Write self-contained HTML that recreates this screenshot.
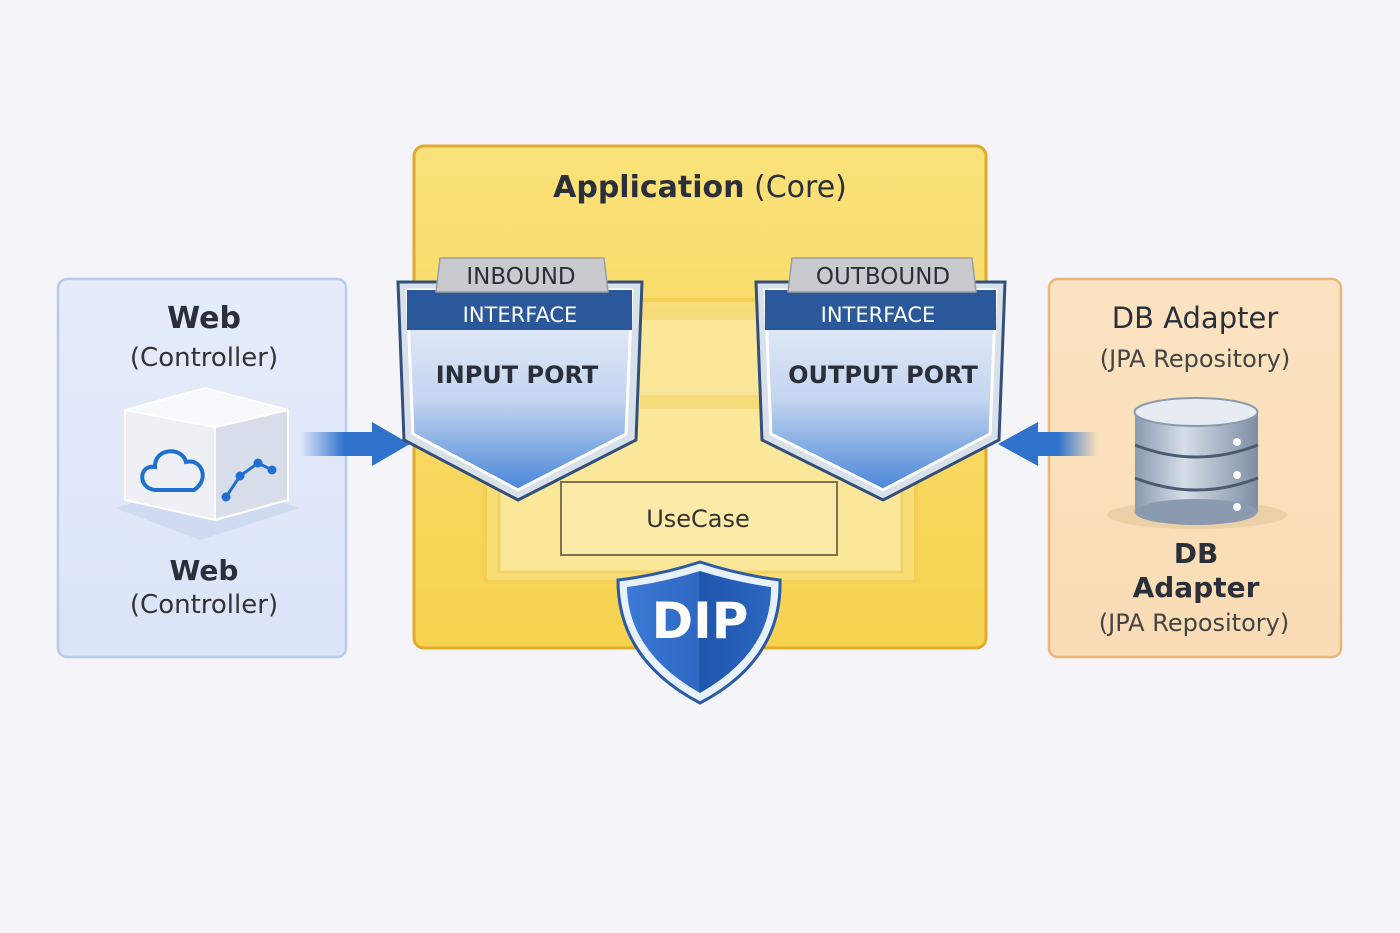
<!DOCTYPE html>
<html><head><style>html,body{margin:0;padding:0;background:#f5f4f9}svg{display:block}text{font-family:"DejaVu Sans","Liberation Sans",sans-serif}</style></head>
<body>
<svg width="1400" height="933" viewBox="0 0 1400 933" xmlns="http://www.w3.org/2000/svg">
<defs>
<linearGradient id="core" x1="0" y1="0" x2="0" y2="1"><stop offset="0" stop-color="#fae27a"/><stop offset="1" stop-color="#f6d24e"/></linearGradient>
<linearGradient id="web" x1="0" y1="0" x2="0" y2="1"><stop offset="0" stop-color="#e6ecfb"/><stop offset="1" stop-color="#dbe4f8"/></linearGradient>
<linearGradient id="db" x1="0" y1="0" x2="0" y2="1"><stop offset="0" stop-color="#fbe3c2"/><stop offset="1" stop-color="#f9dcb4"/></linearGradient>
<linearGradient id="sh" x1="0" y1="0" x2="0" y2="1"><stop offset="0" stop-color="#eef1fa"/><stop offset="0.55" stop-color="#c3d5f0"/><stop offset="1" stop-color="#4a86d8"/></linearGradient>
<linearGradient id="dip" x1="0" y1="0" x2="1" y2="0"><stop offset="0" stop-color="#3b7ad6"/><stop offset="0.5" stop-color="#2d67c2"/><stop offset="0.5" stop-color="#1f56ad"/><stop offset="1" stop-color="#2b66c0"/></linearGradient>
<linearGradient id="arL" x1="0" y1="0" x2="1" y2="0"><stop offset="0" stop-color="#2f72cc" stop-opacity="0"/><stop offset="0.6" stop-color="#2f72cc"/></linearGradient>
<linearGradient id="arR" x1="1" y1="0" x2="0" y2="0"><stop offset="0" stop-color="#2f72cc" stop-opacity="0"/><stop offset="0.6" stop-color="#2f72cc"/></linearGradient>
<linearGradient id="cyl" x1="0" y1="0" x2="1" y2="0"><stop offset="0" stop-color="#8a9bb0"/><stop offset="0.4" stop-color="#d5dde8"/><stop offset="1" stop-color="#7d8ea4"/></linearGradient>
</defs>

<rect x="58" y="279" width="288" height="378" rx="9" fill="url(#web)" stroke="#b7cbef" stroke-width="2.5"/>
<text x="204" y="328" text-anchor="middle" font-size="30" font-weight="bold" fill="#2a2f3a">Web</text>
<text x="204" y="366" text-anchor="middle" font-size="26" fill="#333">(Controller)</text>
<polygon points="115,508 200,540 300,508 210,480" fill="#c9d6f0" opacity="0.7"/>
<polygon points="125,410 215,427 215,520 125,500" fill="#eef0f5" stroke="#fff" stroke-width="2"/>
<polygon points="215,427 288,410 288,500 215,520" fill="#d8dee9" stroke="#fff" stroke-width="2"/>
<polygon points="125,410 205,388 288,410 215,427" fill="#f8f9fc" stroke="#fff" stroke-width="2"/>
<path d="M155,490 C137,488 139,464 155,467 C154,448 182,446 186,462 C202,458 210,480 194,490 Z" fill="none" stroke="#1f6fd0" stroke-width="4"/>
<polyline points="226,497 240,476 258,463 272,470" fill="none" stroke="#1f6fd0" stroke-width="3"/>
<circle cx="226" cy="497" r="4.5" fill="#1f6fd0"/><circle cx="240" cy="476" r="4.5" fill="#1f6fd0"/><circle cx="258" cy="463" r="4.5" fill="#1f6fd0"/><circle cx="272" cy="470" r="4.5" fill="#1f6fd0"/>
<text x="204" y="580" text-anchor="middle" font-size="28" font-weight="bold" fill="#2a2f3a">Web</text>
<text x="204" y="613" text-anchor="middle" font-size="26" fill="#333">(Controller)</text>

<rect x="1049" y="279" width="292" height="378" rx="9" fill="url(#db)" stroke="#ebb679" stroke-width="2.5"/>
<text x="1195" y="328" text-anchor="middle" font-size="29" fill="#2a2f3a">DB Adapter</text>
<text x="1195" y="367" text-anchor="middle" font-size="24" fill="#444">(JPA Repository)</text>
<ellipse cx="1197" cy="515" rx="90" ry="14" fill="#e6c9a0" opacity="0.7"/>
<rect x="1135" y="412" width="123" height="100" fill="url(#cyl)"/>
<ellipse cx="1196" cy="512" rx="61.5" ry="13" fill="#8a9bb0"/>
<path d="M1135,445 q61,24 123,0 M1135,478 q61,24 123,0" fill="none" stroke="#4d5b70" stroke-width="3"/>
<ellipse cx="1196" cy="412" rx="61.5" ry="14" fill="#e7ecf3" stroke="#8a9bb0" stroke-width="2"/>
<circle cx="1237" cy="442" r="4" fill="#fff"/><circle cx="1237" cy="475" r="4" fill="#fff"/><circle cx="1237" cy="507" r="4" fill="#fff"/>
<text x="1196" y="563" text-anchor="middle" font-size="28" font-weight="bold" fill="#2a2f3a">DB</text>
<text x="1196" y="597" text-anchor="middle" font-size="28" font-weight="bold" fill="#2a2f3a">Adapter</text>
<text x="1194" y="631" text-anchor="middle" font-size="24" fill="#444">(JPA Repository)</text>

<rect x="414" y="146" width="572" height="502" rx="10" fill="url(#core)" stroke="#deac2a" stroke-width="3"/>
<text x="700" y="197" text-anchor="middle" font-size="30" fill="#2a2f3a"><tspan font-weight="bold">Application</tspan> (Core)</text>
<rect x="485" y="300" width="431" height="282" rx="4" fill="#f8de74" stroke="#f3cf56" stroke-width="4"/>
<rect x="499" y="310" width="403" height="262" fill="#fae79a" stroke="#f1d266" stroke-width="3"/>
<rect x="640" y="306" width="120" height="14" fill="#f6dc7a"/>
<rect x="640" y="395" width="120" height="14" fill="#f6dc7a"/>
<rect x="561" y="482" width="276" height="73" fill="#fbeaa8" stroke="#7f7350" stroke-width="2"/>
<text x="698" y="527" text-anchor="middle" font-size="24" fill="#333">UseCase</text>

<rect x="300" y="432" width="75" height="24" fill="url(#arL)"/>
<polygon points="372,422 410,444 372,466" fill="#2f72cc"/>
<rect x="1032" y="432" width="65" height="24" fill="url(#arR)"/>
<polygon points="1038,422 998,444 1038,466" fill="#2f72cc"/>

<path d="M398,282 L642,282 L636,440 L518,500 L404,440 Z" fill="#d8e0ea" stroke="#34507a" stroke-width="3"/>
<path d="M407,290 L632,290 L626,434 L518,490 L413,434 Z" fill="url(#sh)" stroke="#fff" stroke-width="3"/>
<rect x="407" y="290" width="225" height="40" fill="#2b579b"/>
<polygon points="440,258 604,258 608,292 436,292" fill="#c8cacd" stroke="#9a9ea4" stroke-width="1.5"/>
<text x="521" y="284" text-anchor="middle" font-size="23" fill="#2a2f3a">INBOUND</text>
<text x="520" y="322" text-anchor="middle" font-size="21" fill="#fff">INTERFACE</text>
<text x="517" y="383" text-anchor="middle" font-size="24" font-weight="bold" fill="#2a2f3a">INPUT PORT</text>

<path d="M756,282 L1005,282 L999,440 L883,500 L762,440 Z" fill="#d8e0ea" stroke="#34507a" stroke-width="3"/>
<path d="M765,290 L996,290 L990,434 L883,490 L771,434 Z" fill="url(#sh)" stroke="#fff" stroke-width="3"/>
<rect x="765" y="290" width="231" height="40" fill="#2b579b"/>
<polygon points="792,258 972,258 976,292 788,292" fill="#c8cacd" stroke="#9a9ea4" stroke-width="1.5"/>
<text x="883" y="284" text-anchor="middle" font-size="23" fill="#2a2f3a">OUTBOUND</text>
<text x="878" y="322" text-anchor="middle" font-size="21" fill="#fff">INTERFACE</text>
<text x="883" y="383" text-anchor="middle" font-size="24" font-weight="bold" fill="#2a2f3a">OUTPUT PORT</text>

<path d="M618,580 Q660,575 700,562 Q740,575 780,580 Q782,660 700,703 Q618,660 618,580 Z" fill="#e8f0fb" stroke="#2a5aa8" stroke-width="3"/>
<path d="M627,587 Q665,582 700,571 Q735,582 771,587 Q772,652 700,693 Q628,652 627,587 Z" fill="url(#dip)"/>
<text x="700" y="638" text-anchor="middle" font-size="50" font-weight="bold" fill="#fff">DIP</text>
</svg>
</body></html>
